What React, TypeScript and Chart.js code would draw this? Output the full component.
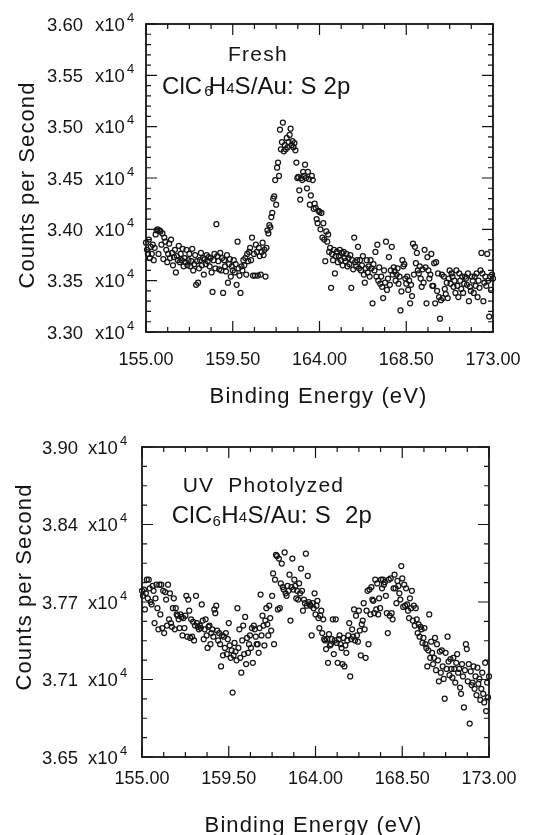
import React, { useEffect, useRef } from "react";
import { Chart, registerables } from "chart.js";

Chart.register(...registerables);

// ---------- data ----------
const energyStart = 155; // eV
const energyStep = 0.05; // eV

// Fresh ClC6H4S/Au : S 2p  (counts per second), 155.00 … 173.00 eV
const freshCounts = [
  33870,33800,33760,33900,33720,33830,33760,33850,33700,33820,33950,33990,34000,33760,33990,33980,33850,33960,33710,33920,
  33880,33800,33680,33760,33860,33720,33900,33770,33650,33730,33800,33580,33740,33700,33840,33680,33760,33700,33810,33640,
  33720,33680,33800,33650,33700,33760,33640,33690,33810,33600,33660,33750,33460,33690,33480,33620,33700,33770,33650,33720,
  33560,33710,33660,33750,33690,33730,33640,33720,33580,33390,33700,33760,33620,34050,33740,33690,33610,33770,33600,33720,
  33380,33700,33640,33590,33750,33480,33660,33710,33540,33640,33600,33700,33580,33660,33460,33880,33620,33550,33380,33640,
  33600,33700,33650,33720,33560,33760,33690,33780,33820,33700,33920,33550,33760,33550,33850,33780,33550,33820,33740,33560,
  33780,33870,33750,33800,33540,33820,33990,33960,34040,34020,34120,34160,34300,34320,34480,34240,34600,34650,34520,34970,
  34780,34850,35040,34760,34820,34780,34890,34800,34850,34920,34980,34820,34860,34800,34840,34770,34650,34500,34510,34380,
  34290,34500,34480,34560,34520,34630,34500,34400,34560,34490,34240,34330,34520,34480,34200,34250,34210,34100,34060,34180,
  34170,34000,34160,33920,34060,33900,33690,33980,33880,33950,33780,33820,33430,33760,33700,33800,33570,33740,33780,33680,
  33740,33800,33700,33770,33650,33780,33720,33690,33760,33640,33720,33660,33750,33430,33700,33610,33920,33680,33640,33700,
  33830,33620,33700,33600,33650,33740,33560,33480,33620,33700,33580,33640,33540,33700,33620,33280,33660,33600,33780,33540,
  33850,33500,33630,33470,33540,33440,33330,33600,33480,33880,33410,33520,33730,33460,33600,33830,33560,33630,33590,33500,
  33560,33620,33470,33540,33210,33395,33700,33640,33660,33520,33470,33540,33410,33500,33280,33460,33350,33860,33560,33830,
  33670,33770,33600,33570,33640,33520,33440,33610,33480,33800,33630,33280,33730,33600,33520,33560,33760,33450,33450,33670,
  33280,33680,33400,33570,33340,33130,33310,33560,33330,33540,33420,33370,33480,33330,33520,33600,33470,33570,33540,33440,
  33500,33380,33600,33450,33340,33570,33500,33420,33540,33380,33470,33540,33520,33460,33570,33300,33440,33400,33540,33500,
  33380,33540,33450,33570,33340,33500,33430,33600,33770,33570,33300,33480,33540,33450,33760,33500,33150,33540,33410,33560,
  33520,
];

// UV photolyzed ClC6H4S/Au : S 2p  (counts per second), 155.00 … 173.00 eV
const uvCounts = [
  37840,37800,37850,37690,37820,37930,37780,37930,37860,37750,37730,37880,37840,37580,37780,37890,37700,37530,37890,37650,
  37890,37540,37840,37500,37830,37770,37560,37890,37610,37820,37580,37550,37700,37780,37530,37700,37650,37640,37610,37540,
  37650,37630,37480,37620,37540,37640,37800,37470,37770,37680,37460,37610,37470,37590,37440,37560,37800,37580,37550,37530,
  37560,37540,37730,37600,37450,37530,37610,37480,37380,37550,37560,37410,37500,37530,37470,37690,37660,37720,37520,37440,
  37500,37410,37230,37480,37320,37470,37380,37500,37330,37450,37580,37400,37300,37360,37020,37320,37420,37350,37280,37700,
  37380,37530,37300,37180,37440,37560,37330,37630,37250,37460,37340,37410,37480,37380,37540,37260,37560,37530,37470,37410,
  37410,37340,37540,37810,37480,37640,37560,37400,37600,37700,37570,37480,37720,37620,37520,37800,37980,37410,37930,38130,
  38120,37690,38100,37700,37900,38060,37870,37850,38150,37820,37800,37880,37840,37970,37600,37870,38100,37850,37930,37880,
  37780,37840,37770,37900,37820,38020,37840,37680,37770,37740,38140,37720,37960,37750,37730,37720,37480,37740,37700,37820,
  37650,37720,37760,37620,37540,37640,37680,37500,37610,37450,37440,37370,37450,37260,37490,37400,37410,37450,37610,37330,
  37440,37610,37420,37260,37450,37480,37410,37380,37250,37460,37230,37400,37340,37440,37480,37580,37150,37450,37530,37470,
  37690,37440,37640,37480,37430,37680,37520,37320,37570,37600,37740,37530,37300,37680,37840,37410,37850,37650,37870,37770,
  37760,37660,37930,37690,37900,37650,37780,37700,37930,37860,37930,37890,37910,37800,37660,37500,37930,37640,37940,37660,
  37610,37860,37970,37860,37740,37920,37880,37820,37770,38040,37940,37710,37890,37720,37860,37730,37680,37620,37780,37700,
  37840,37600,37720,37560,37700,37610,37500,37570,37470,37550,37530,37420,37460,37540,37410,37380,37230,37360,37650,37300,
  37430,37340,37250,37300,37460,37200,37410,37280,37110,37350,37180,37360,37230,37130,36970,37340,37210,37470,37270,37160,
  37290,37210,37140,37300,37210,37100,37260,37330,37180,37210,37060,37010,37250,37150,36900,37200,37410,37370,37110,37250,
  36770,37190,37080,37100,37230,37050,37150,37000,37220,37090,37130,36960,37050,37180,37010,36940,37260,36870,37100,36980,
  37150,
];

// axis ticks
const xTickValues = [155, 159.5, 164, 168.5, 173];
const xTickLabels = ["155.00", "159.50", "164.00", "168.50", "173.00"];
const freshYTickValues = [33000, 33500, 34000, 34500, 35000, 35500, 36000];
const freshYTickLabels = ["3.30", "3.35", "3.40", "3.45", "3.50", "3.55", "3.60"];
const uvYTickValues = [36500, 37125, 37750, 38375, 39000];
const uvYTickLabels = ["3.65", "3.71", "3.77", "3.84", "3.90"];

// texts
const xTitle = "Binding Energy (eV)";
const yTitle = "Counts per Second";
const exponentText = "x10";
const exponentSup = "4";

// ---------- drawing helpers ----------
const INK = "#141414";
const FONT = '"Liberation Sans", Arial, Helvetica, sans-serif';
const MAJOR = 11;
const MINOR = 5;

function setFont(ctx: any, size: number, spacing: number) {
  ctx.font = `${size}px ${FONT}`;
  try {
    ctx.letterSpacing = `${spacing}px`;
  } catch (e) {
    /* ignore */
  }
}

type Run = { text: string; size: number; dx?: number; dy?: number };

function drawRuns(ctx: any, runs: Run[], x: number, y: number, align: string, spacing: number) {
  const widths = runs.map((r) => {
    setFont(ctx, r.size, spacing);
    return ctx.measureText(r.text).width + (r.dx || 0);
  });
  const total = widths.reduce((a, b) => a + b, 0);
  let cx = align === "center" ? x - total / 2 : x;
  ctx.textAlign = "left";
  ctx.textBaseline = "alphabetic";
  runs.forEach((r, i) => {
    setFont(ctx, r.size, spacing);
    ctx.fillText(r.text, cx + (r.dx || 0), y + (r.dy || 0));
    cx += widths[i];
  });
}

function subdivide(vals: number[], n: number) {
  const out: number[] = [];
  for (let i = 0; i < vals.length - 1; i++) {
    for (let k = 1; k < n; k++) out.push(vals[i] + ((vals[i + 1] - vals[i]) * k) / n);
  }
  return out;
}

const panelPlugin = {
  id: "panelDecor",
  afterDraw(chart: any, _args: any, o: any) {
    const ctx = chart.ctx;
    const xs = chart.scales.x;
    const ys = chart.scales.y;
    const { left, right, top, bottom } = chart.chartArea;
    ctx.save();
    ctx.strokeStyle = INK;
    ctx.fillStyle = INK;

    // frame
    ctx.lineWidth = 1.8;
    ctx.strokeRect(left, top, right - left, bottom - top);

    // inward ticks
    ctx.lineWidth = 1.2;
    ctx.beginPath();
    const xTick = (v: number, len: number) => {
      const p = xs.getPixelForValue(v);
      ctx.moveTo(p, bottom);
      ctx.lineTo(p, bottom - len);
      ctx.moveTo(p, top);
      ctx.lineTo(p, top + len);
    };
    const yTick = (v: number, len: number) => {
      const p = ys.getPixelForValue(v);
      ctx.moveTo(left, p);
      ctx.lineTo(left + len, p);
      ctx.moveTo(right, p);
      ctx.lineTo(right - len, p);
    };
    o.xTicks.forEach((v: number) => xTick(v, MAJOR));
    subdivide(o.xTicks, o.xMinor).forEach((v) => xTick(v, MINOR));
    o.yTicks.forEach((v: number) => yTick(v, MAJOR));
    subdivide(o.yTicks, o.yMinor).forEach((v) => yTick(v, MINOR));
    ctx.stroke();

    // x tick labels
    setFont(ctx, 18, 0);
    ctx.textAlign = "center";
    ctx.textBaseline = "alphabetic";
    o.xTicks.forEach((v: number, i: number) => {
      ctx.fillText(o.xLabels[i], xs.getPixelForValue(v), bottom + o.xLabelDrop);
    });

    // y tick labels  "3.60 x10^4"
    o.yTicks.forEach((v: number, i: number) => {
      const p = ys.getPixelForValue(v);
      setFont(ctx, 18.5, 0);
      ctx.textAlign = "right";
      ctx.fillText(o.yLabels[i], left - o.numRightOff, p + 6.5);
      ctx.textAlign = "left";
      ctx.fillText(exponentText, left - o.x10LeftOff, p + 6.5);
      setFont(ctx, 13, 0);
      ctx.fillText(exponentSup, left - o.supLeftOff, p - 2.5);
    });

    // axis titles
    setFont(ctx, 22, 1.1);
    ctx.textAlign = "center";
    ctx.textBaseline = "alphabetic";
    ctx.fillText(xTitle, o.xTitleX, o.xTitleY);
    ctx.save();
    ctx.translate(o.yTitleX, o.yTitleY);
    ctx.rotate(-Math.PI / 2);
    ctx.fillText(yTitle, 0, 0);
    ctx.restore();

    // annotations
    o.notes.forEach((n: any) => drawRuns(ctx, n.runs, n.x, n.y, n.align, n.spacing));

    ctx.restore();
  },
};

const freshPanel = {
  values: freshCounts,
  yMin: 33000,
  yMax: 36000,
  yTicks: freshYTickValues,
  yLabels: freshYTickLabels,
  yMinor: 5,
  height: 420,
  padding: { left: 146, right: 40, top: 24, bottom: 88 },
  deco: {
    numRightOff: 63,
    x10LeftOff: 51,
    supLeftOff: 19,
    xLabelDrop: 33,
    xTitleX: 318.5,
    xTitleY: 403,
    yTitleX: 34,
    yTitleY: 185,
    notes: [
      { runs: [{ text: "Fresh", size: 21 }], x: 258, y: 61, align: "center", spacing: 1.3 },
      {
        runs: [
          { text: "ClC", size: 24 },
          { text: "6", size: 15, dx: 2, dy: 2 },
          { text: "H", size: 24, dx: -4 },
          { text: "4", size: 15, dy: -1 },
          { text: "S/Au: S 2p", size: 24 },
        ],
        x: 162,
        y: 94,
        align: "left",
        spacing: 0.1,
      },
    ],
  },
};

const uvPanel = {
  values: uvCounts,
  yMin: 36500,
  yMax: 39000,
  yTicks: uvYTickValues,
  yLabels: uvYTickLabels,
  yMinor: 4,
  height: 415,
  padding: { left: 142, right: 44, top: 27, bottom: 78 },
  deco: {
    numRightOff: 64,
    x10LeftOff: 54,
    supLeftOff: 22,
    xLabelDrop: 27,
    xTitleX: 313.5,
    xTitleY: 412,
    yTitleX: 31,
    yTitleY: 167,
    notes: [
      { runs: [{ text: "UV  Photolyzed", size: 21 }], x: 182.7, y: 71.7, align: "left", spacing: 1.2 },
      {
        runs: [
          { text: "ClC", size: 24 },
          { text: "6", size: 15, dy: 3 },
          { text: "H", size: 24 },
          { text: "4", size: 15, dy: -1 },
          { text: "S/Au: S  2p", size: 24 },
        ],
        x: 171.7,
        y: 103.3,
        align: "left",
        spacing: 0.3,
      },
    ],
  },
};

function Panel({ cfg }: { cfg: any }) {
  const ref = useRef<HTMLCanvasElement>(null);
  useEffect(() => {
    const canvas = ref.current;
    if (!canvas) return;
    const points = cfg.values.map((v: number, i: number) => ({
      x: +(energyStart + i * energyStep).toFixed(2),
      y: v,
    }));
    const chart = new Chart(canvas, {
      type: "scatter",
      data: {
        datasets: [
          {
            data: points,
            showLine: false,
            pointStyle: "circle",
            pointRadius: 2.5,
            pointHoverRadius: 2.5,
            pointBorderWidth: 1.25,
            pointBorderColor: INK,
            pointBackgroundColor: "rgba(255,255,255,0)",
            clip: false,
          } as any,
        ],
      },
      options: {
        responsive: false,
        maintainAspectRatio: false,
        animation: false,
        devicePixelRatio: 1,
        events: [],
        layout: { padding: cfg.padding },
        plugins: {
          legend: { display: false },
          tooltip: { enabled: false },
          title: { display: false },
          panelDecor: {
            ...cfg.deco,
            xTicks: xTickValues,
            xLabels: xTickLabels,
            xMinor: 4,
            yTicks: cfg.yTicks,
            yLabels: cfg.yLabels,
            yMinor: cfg.yMinor,
          },
        } as any,
        scales: {
          x: { type: "linear", min: 155, max: 173, display: false },
          y: { type: "linear", min: cfg.yMin, max: cfg.yMax, display: false },
        },
      },
      plugins: [panelPlugin as any],
    });
    return () => chart.destroy();
  }, [cfg]);
  return (
    <canvas
      ref={ref}
      width={533}
      height={cfg.height}
      style={{ display: "block", width: 533, height: cfg.height }}
    />
  );
}

export default function App() {
  return (
    <div
      style={{
        position: "absolute",
        left: 0,
        top: 0,
        width: 533,
        height: 835,
        background: "#ffffff",
        overflow: "hidden",
      }}
    >
      <Panel cfg={freshPanel} />
      <Panel cfg={uvPanel} />
    </div>
  );
}
